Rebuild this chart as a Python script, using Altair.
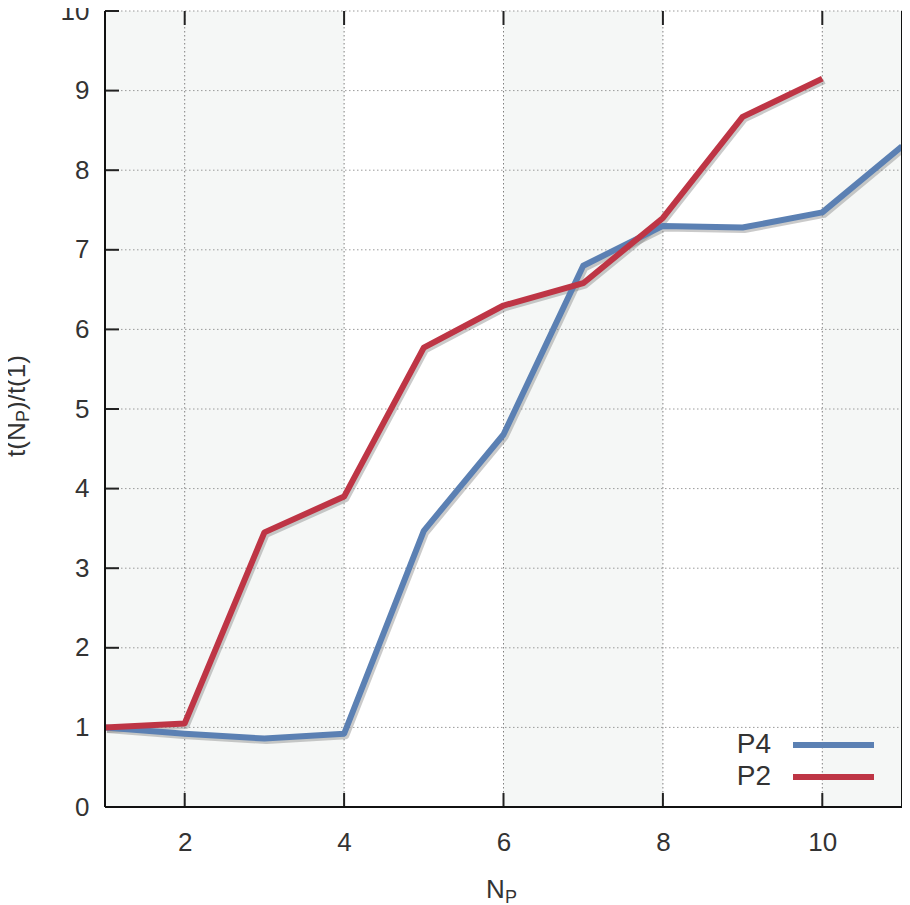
import altair as alt
import pandas as pd

# ---- data ----
np_vals = [1, 2, 3, 4, 5, 6, 7, 8, 9, 10, 11]
p4_vals = [1.0, 0.92, 0.86, 0.92, 3.47, 4.68, 6.80, 7.30, 7.28, 7.47, 8.30]
p2_x = [1, 2, 3, 4, 5, 6, 7, 8, 9, 10]
p2_vals = [1.0, 1.05, 3.45, 3.90, 5.77, 6.30, 6.58, 7.40, 8.67, 9.15]
series = ["P4", "P2"]
colors = ["#5b80b3", "#be3545"]
x_ticks = [2, 4, 6, 8, 10]
y_ticks = [0, 1, 2, 3, 4, 5, 6, 7, 8, 9, 10]
band_start = [1, 6, 10]
band_end = [4, 8, 11]

W, H = 797, 796
FONT = "Liberation Sans"
TXT = "#333333"

df = pd.concat([
    pd.DataFrame({"NP": np_vals, "ratio": p4_vals, "series": "P4", "order": range(len(np_vals))}),
    pd.DataFrame({"NP": p2_x, "ratio": p2_vals, "series": "P2", "order": range(len(p2_x))}),
])
bands = pd.DataFrame({"x0": band_start, "x1": band_end})
xt = pd.DataFrame({"v": x_ticks})
yt = pd.DataFrame({"v": y_ticks})

xs = alt.Scale(domain=[1, 11], nice=False, zero=False)
ys = alt.Scale(domain=[0, 10], nice=False)
cs = alt.Scale(domain=series, range=colors)

xaxis = alt.Axis(values=x_ticks, ticks=False, domain=False, grid=False, title=None,
                 labelFont=FONT, labelFontSize=26, labelColor=TXT, labelPadding=22)
yaxis = alt.Axis(values=y_ticks, ticks=False, domain=False, grid=False, title=None,
                 labelFont=FONT, labelFontSize=26, labelColor=TXT, labelPadding=16)

def X(f):
    return alt.X(f, scale=xs, axis=xaxis)

def Y(f):
    return alt.Y(f, scale=ys, axis=yaxis)

band_layer = alt.Chart(bands).mark_rect(color="#f5f7f6").encode(
    x=X("x0:Q"), x2="x1:Q",
    y=alt.value(0), y2=alt.value(H))

ygrid = alt.Chart(yt).mark_rule(color="#9a9a9a", strokeDash=[1.5, 2.5], strokeWidth=1).encode(
    y=Y("v:Q"), x=alt.value(0), x2=alt.value(W))
xgrid = alt.Chart(xt).mark_rule(color="#808080", strokeDash=[1.5, 2.5], strokeWidth=1).encode(
    x=X("v:Q"), y=alt.value(0), y2=alt.value(H))

yticks_l = alt.Chart(yt).mark_rule(color="#222222", strokeWidth=2).encode(
    y=Y("v:Q"), x=alt.value(0), x2=alt.value(14))
xticks_b = alt.Chart(xt).mark_rule(color="#222222", strokeWidth=2).encode(
    x=X("v:Q"), y=alt.value(H), y2=alt.value(H - 14))
xticks_t = alt.Chart(xt).mark_rule(color="#222222", strokeWidth=2).encode(
    x=X("v:Q"), y=alt.value(0), y2=alt.value(14))

shadow = alt.Chart(df).mark_line(color="#8a8a8a", opacity=0.45, strokeWidth=6,
                                 xOffset=2, yOffset=2.5, strokeJoin="round").encode(
    x=X("NP:Q"), y=Y("ratio:Q"),
    detail="series:N", order="order:Q")

lines = alt.Chart(df).mark_line(strokeWidth=6, strokeJoin="round").encode(
    x=X("NP:Q"), y=Y("ratio:Q"),
    color=alt.Color("series:N", scale=cs, legend=None),
    detail="series:N", order="order:Q")

# borders
border_l = alt.Chart(yt).mark_rule(color="#111111", strokeWidth=2).encode(
    x=alt.value(0), y=alt.value(0), y2=alt.value(H))
border_r = alt.Chart(yt).mark_rule(color="#111111", strokeWidth=2).encode(
    x=alt.value(W), y=alt.value(0), y2=alt.value(H))
border_b = alt.Chart(yt).mark_rule(color="#111111", strokeWidth=2).encode(
    y=alt.value(H), x=alt.value(0), x2=alt.value(W))

# legend
leg = []
for i, s in enumerate(series):
    yy = 734 + 32 * i
    one = pd.DataFrame({"series": [s]})
    leg.append(alt.Chart(one).mark_text(align="right", baseline="middle", font=FONT,
                                        fontSize=28, color=TXT).encode(
        text="series:N", x=alt.value(666), y=alt.value(yy)))
    leg.append(alt.Chart(one).mark_rule(strokeWidth=6).encode(
        color=alt.Color("series:N", scale=cs, legend=None),
        x=alt.value(688), x2=alt.value(769), y=alt.value(yy)))

# axis titles with subscripts
def txt(t, x, y, size, angle=0):
    return alt.Chart(pd.DataFrame({"t": [t]})).mark_text(
        align="left", baseline="alphabetic", font=FONT, fontSize=size, color=TXT,
        angle=angle).encode(text="t:N", x=alt.value(x), y=alt.value(y))

titles = [
    txt("N", 381, 887, 26),
    txt("P", 400, 892, 18),
    txt("t(N", -80, 446, 26, 270),
    txt("P", -76, 411, 18, 270),
    txt(")/t(1)", -80, 399, 26, 270),
]

chart = alt.layer(
    band_layer, ygrid, xgrid, yticks_l, xticks_b, xticks_t,
    shadow, lines, border_l, border_r, border_b, *leg, *titles
).resolve_scale(color="shared").properties(
    width=W, height=H,
    autosize=alt.AutoSizeParams(type="none"),
    padding={"left": 97, "top": 3, "right": 0, "bottom": 98},
).configure_view(stroke=None)

chart.save("out.html", embed_options={"renderer": "svg", "actions": False})
